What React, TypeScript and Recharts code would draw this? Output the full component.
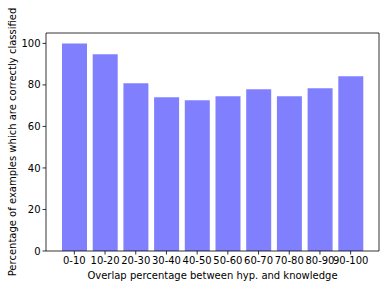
import { BarChart, Bar, XAxis, YAxis, Label, ReferenceLine } from 'recharts'

const categories = ['0-10', '10-20', '20-30', '30-40', '40-50', '50-60', '60-70', '70-80', '80-90', '90-100']
const accuracy = [100, 94.8, 80.8, 74.0, 72.6, 74.5, 77.9, 74.5, 78.4, 84.2]
const yTicks = [0, 20, 40, 60, 80, 100]
const Y_MAX = 105

const data = categories.map((range, i) => ({ range, accuracy: accuracy[i] }))

const W = 389
const H = 289
const MARGIN = { top: 33, right: 10, bottom: 0, left: 0 }
const Y_AXIS_W = 46
const X_AXIS_H = 38
const plotHeight = H - MARGIN.top - MARGIN.bottom - X_AXIS_H

const font = { fontFamily: 'DejaVu Sans', fontSize: 10, fill: '#000' }
const spine = { stroke: '#000', strokeWidth: 0.8 }

// top spine comes from the reference line at the domain max, right spine hangs off its end
const FrameShape = (props: any) => {
  const { x1, y1, x2 } = props
  const left = Math.min(x1, x2)
  const right = Math.max(x1, x2)
  return (
    <path
      d={`M${left},${y1} L${right},${y1} L${right},${y1 + plotHeight}`}
      fill="none"
      stroke="#000"
      strokeWidth={0.8}
    />
  )
}

export default function App() {
  return (
    <div style={{ position: 'absolute', left: 0, top: 0, width: W, height: H }}>
      <BarChart width={W} height={H} data={data} margin={MARGIN} barSize={25}>
        <XAxis
          dataKey="range"
          interval={0}
          height={X_AXIS_H}
          padding={{ left: 13, right: 13 }}
          tick={font}
          tickSize={3.5}
          tickMargin={2}
          axisLine={spine}
          tickLine={spine}
        >
          <Label
            value="Overlap percentage between hyp. and knowledge"
            position="insideBottom"
            offset={10}
            style={font}
          />
        </XAxis>
        <YAxis
          domain={[0, Y_MAX]}
          ticks={yTicks}
          width={Y_AXIS_W}
          tick={font}
          tickSize={3.5}
          tickMargin={2}
          axisLine={spine}
          tickLine={spine}
        >
          <Label
            content={() => (
              <text
                x={12}
                y={142}
                transform="rotate(-90 12 142)"
                textAnchor="middle"
                dominantBaseline="central"
                fontFamily="DejaVu Sans"
                fontSize={10}
                fill="#000"
              >
                Percentage of examples which are correctly classified
              </text>
            )}
          />
        </YAxis>
        <Bar dataKey="accuracy" fill="#8080ff" isAnimationActive={false} />
        <ReferenceLine y={Y_MAX} stroke="#000" strokeWidth={0.8} ifOverflow="extendDomain" shape={FrameShape} />
      </BarChart>
    </div>
  )
}
